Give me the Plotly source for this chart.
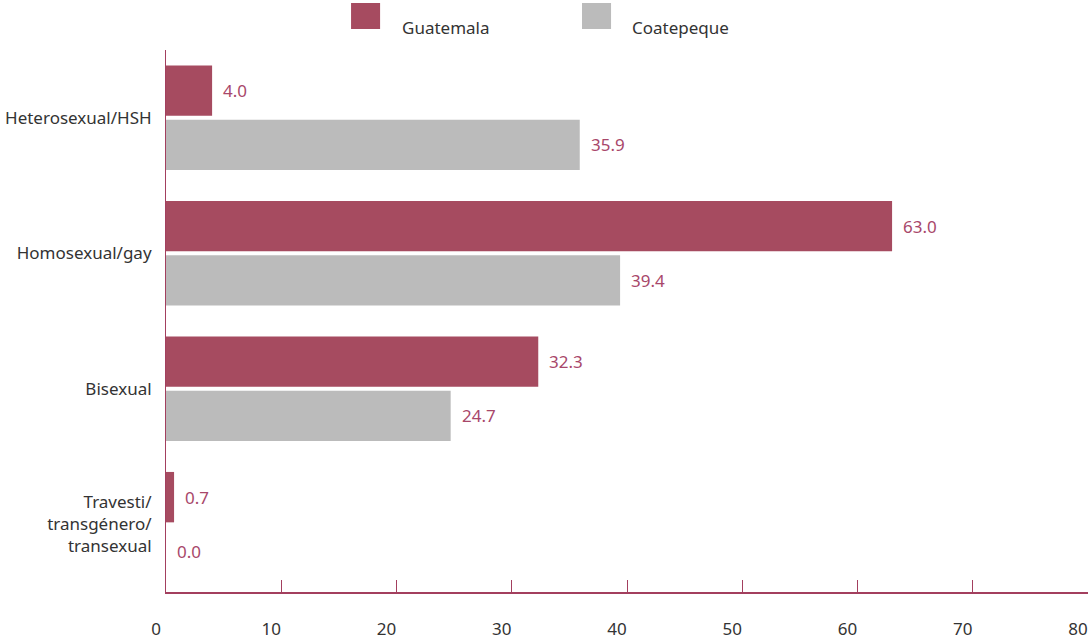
import plotly.graph_objects as go

categories = ["Heterosexual/HSH", "Homosexual/gay", "Bisexual", "Travesti/<br>transgénero/<br>transexual"]
series_names = ["Guatemala", "Coatepeque"]
guatemala = [4.0, 63.0, 32.3, 0.7]
coatepeque = [35.9, 39.4, 24.7, 0.0]
x_ticks = [0, 10, 20, 30, 40, 50, 60, 70, 80]

MAROON = "#A64B60"
GRAY = "#BBBBBB"
LABEL = "#A8476A"
AXIS = "#A33F5E"
FONT = "Noto Sans"
FS = 17

fig = go.Figure()
for name, vals, col in [(series_names[0], guatemala, MAROON), (series_names[1], coatepeque, GRAY)]:
    fig.add_trace(go.Bar(y=categories, x=vals, orientation="h", name=name,
                         marker=dict(color=col, line=dict(width=0)), showlegend=False))

annotations = []
for vals, shift in [(guatemala, 27), (coatepeque, -27)]:
    for c, v in zip(categories, vals):
        annotations.append(dict(x=v, y=c, xref="x", yref="y", text=f"{v:.1f}", showarrow=False,
                                xanchor="left", yanchor="middle", xshift=9, yshift=shift,
                                font=dict(family=FONT, size=FS, color=LABEL)))

# legend drawn manually
legend_pos = [(0.2007, 0.2538), (0.4512, 0.5032)]
shapes = []
for (sx, tx), name, col in zip(legend_pos, series_names, [MAROON, GRAY]):
    shapes.append(dict(type="rect", xref="paper", yref="paper", x0=sx, x1=sx + 0.0315,
                       y0=1 + 21 / 542, y1=1 + 47 / 542, fillcolor=col, line=dict(width=0)))
    annotations.append(dict(x=tx, y=1 + 23 / 542, xref="paper", yref="paper", text=name,
                            showarrow=False, xanchor="left", yanchor="middle",
                            font=dict(family=FONT, size=FS, color="#333333")))

fig.update_layout(
    width=1091, height=640,
    margin=dict(l=166, r=3, t=50, b=48),
    paper_bgcolor="white", plot_bgcolor="white",
    barmode="group", bargap=0.2, bargroupgap=0.07,
    font=dict(family=FONT, size=FS, color="#333333"),
    annotations=annotations, shapes=shapes,
    xaxis=dict(range=[0, 80], tickvals=x_ticks, ticktext=[str(t) for t in x_ticks],
               automargin=False,
               showgrid=False, zeroline=False, showline=True, linecolor=AXIS, linewidth=2,
               ticks="inside", ticklen=12, tickcolor=AXIS, tickwidth=1,
               ticklabelstandoff=21, ticklabelshift=-10,
               tickfont=dict(family=FONT, size=FS, color="#333333")),
    yaxis=dict(autorange="reversed", showgrid=False, zeroline=False, showline=True,
               automargin=False,
               linecolor=AXIS, linewidth=1, ticks="", ticklabelstandoff=10,
               tickfont=dict(family=FONT, size=FS, color="#333333")),
)

fig.write_html("out.html", config={"displayModeBar": False},
               post_script="document.body.style.margin='0';document.body.style.overflow='hidden';")
